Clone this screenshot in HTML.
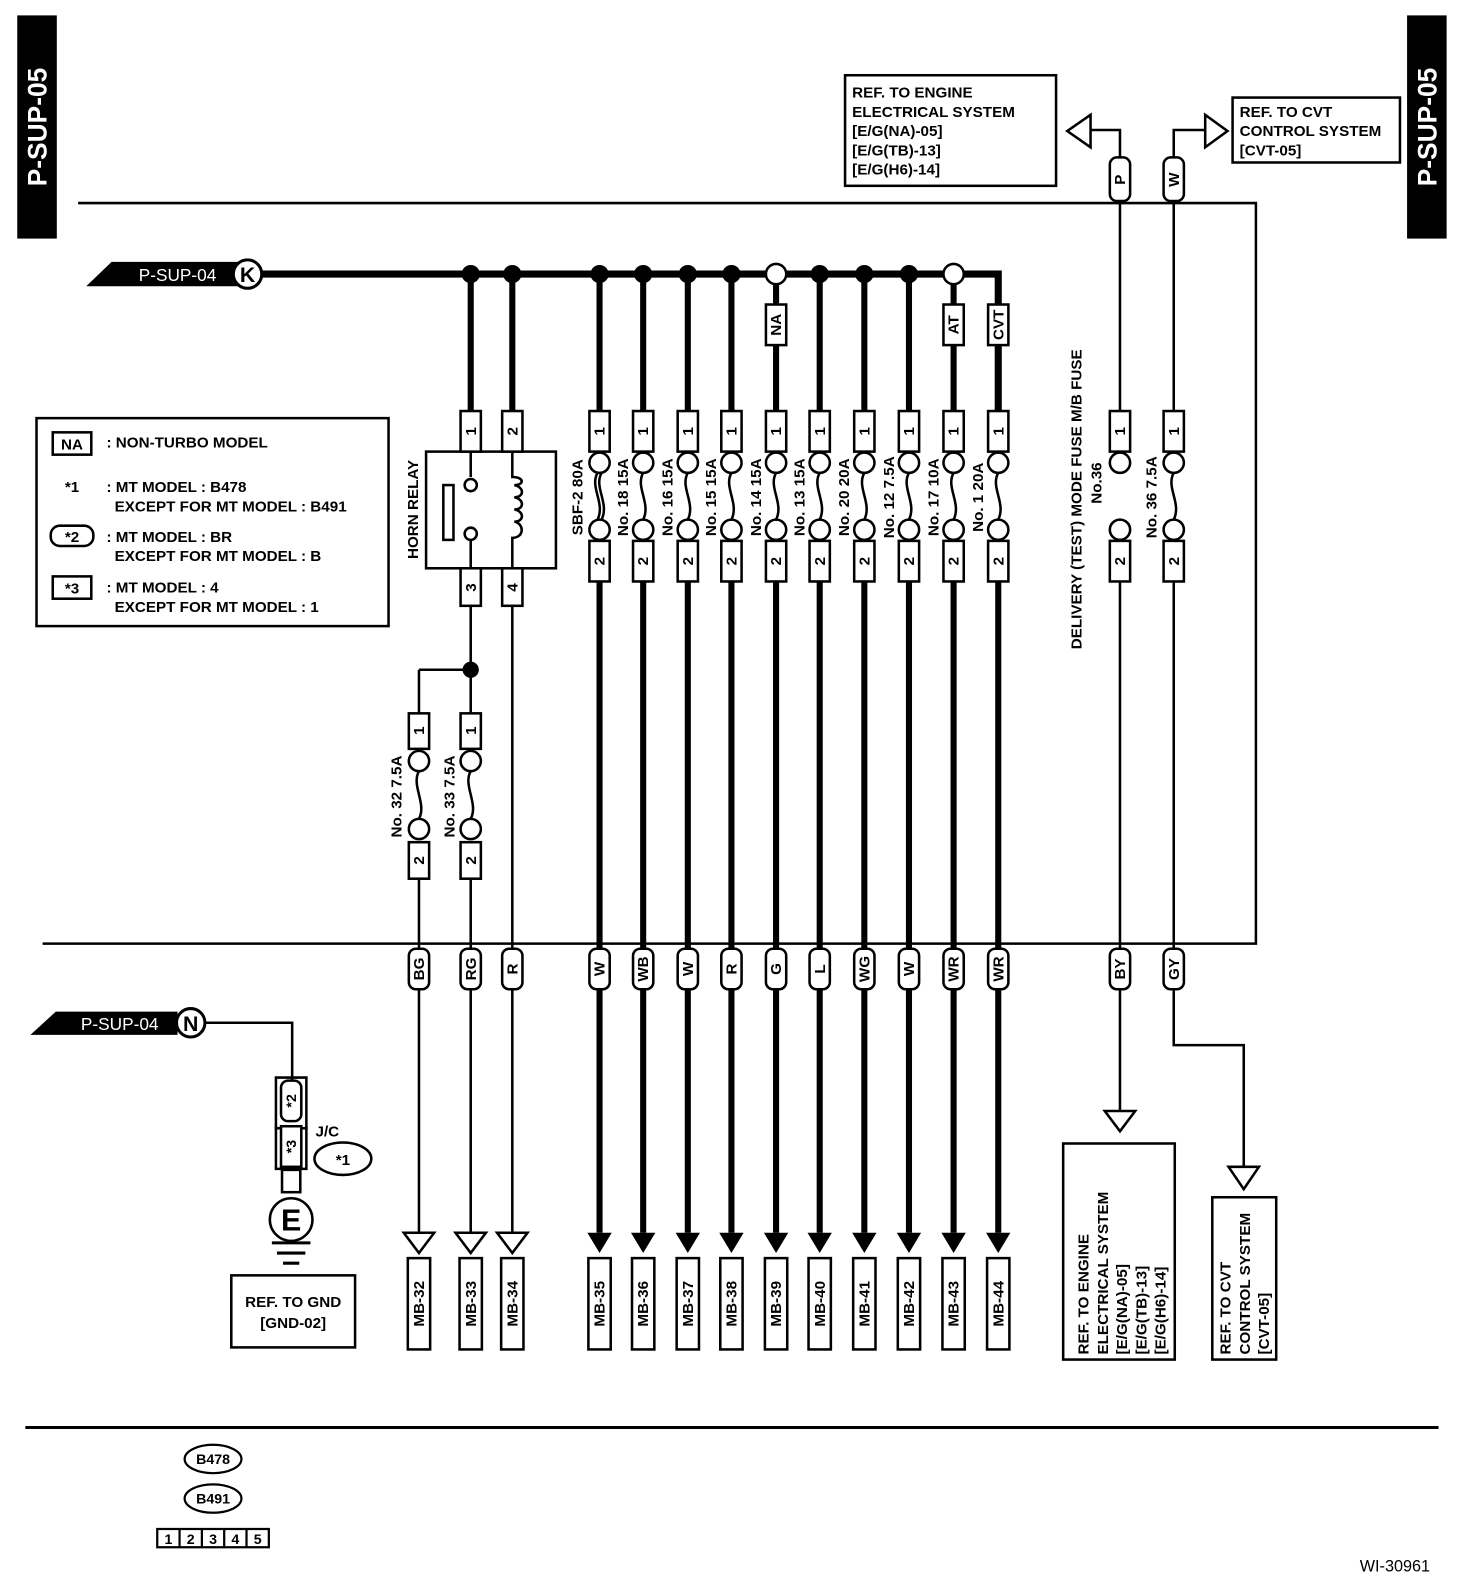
<!DOCTYPE html>
<html><head><meta charset="utf-8"><style>
html,body{margin:0;padding:0;background:#fff}
svg{display:block}
text{font-family:"Liberation Sans",sans-serif;font-weight:bold;fill:#000}
</style></head><body>
<svg width="1472" height="1588" viewBox="0 0 1451 1565" xmlns="http://www.w3.org/2000/svg">
<rect width="1451" height="1565" fill="#fff"/>
<!-- side bars -->
<rect x="17" y="15" width="39" height="220" fill="#000"/>
<text transform="translate(46,125) rotate(-90)" text-anchor="middle" font-size="26" style="fill:#fff">P-SUP-05</text>
<rect x="1387" y="15" width="39" height="220" fill="#000"/>
<text transform="translate(1416,125) rotate(-90)" text-anchor="middle" font-size="26" style="fill:#fff">P-SUP-05</text>

<g fill="none" stroke="#000" stroke-width="2.5">
<!-- frame lines -->
<path d="M77 200 H1238 V930 H42"/>
<!-- ref boxes top -->
<rect x="833" y="74" width="208" height="109"/>
<rect x="1215" y="96" width="165" height="64"/>
<!-- P / W up -->
<path d="M1104 155 V128 H1075"/>
<polygon points="1075,113 1075,145 1052,129"/>
<path d="M1157 155 V128 H1188"/>
<polygon points="1188,113 1188,145 1210,129"/>
<path d="M1104 198 V405 M1157 198 V405 M1104 572 V935 M1157 572 V935"/>
<path d="M1104 975 V1095"/>
<polygon points="1089,1095 1119,1095 1104,1115"/>
<path d="M1157 975 V1030 H1226 V1150"/>
<polygon points="1211,1150 1241,1150 1226,1172"/>
<rect x="1048" y="1127" width="110" height="213"/>
<rect x="1195" y="1180" width="63" height="160"/>
<!-- legend -->
<rect x="36" y="412" width="347" height="205"/>
<!-- horn relay -->
<rect x="420" y="445" width="128" height="115"/>
<!-- thin lines lower -->
<path d="M464 597 V660 M413 660 H464 M413 660 V703 M464 660 V703 M413 866 V935 M464 866 V935 M505 597 V935 M413 975 V1215 M464 975 V1215 M505 975 V1215"/>
<polygon points="398,1215 428,1215 413,1235"/>
<polygon points="449,1215 479,1215 464,1235"/>
<polygon points="490,1215 520,1215 505,1235"/>
<!-- N line -->
<path d="M200 1008 H288 V1065"/>
<!-- bottom line -->
<path d="M25 1407 H1418" stroke-width="3"/>
<rect x="228" y="1257" width="122" height="71"/>
</g>

<!-- ref texts -->
<g font-size="15">
<text x="840" y="96">REF. TO ENGINE</text>
<text x="840" y="115">ELECTRICAL SYSTEM</text>
<text x="840" y="134">[E/G(NA)-05]</text>
<text x="840" y="153">[E/G(TB)-13]</text>
<text x="840" y="172">[E/G(H6)-14]</text>
<text x="1222" y="115">REF. TO CVT</text>
<text x="1222" y="134">CONTROL SYSTEM</text>
<text x="1222" y="153">[CVT-05]</text>
<text transform="translate(1073,1335) rotate(-90)">REF. TO ENGINE</text>
<text transform="translate(1092,1335) rotate(-90)">ELECTRICAL SYSTEM</text>
<text transform="translate(1111,1335) rotate(-90)">[E/G(NA)-05]</text>
<text transform="translate(1130,1335) rotate(-90)">[E/G(TB)-13]</text>
<text transform="translate(1149,1335) rotate(-90)">[E/G(H6)-14]</text>
<text transform="translate(1213,1335) rotate(-90)">REF. TO CVT</text>
<text transform="translate(1232,1335) rotate(-90)">CONTROL SYSTEM</text>
<text transform="translate(1251,1335) rotate(-90)">[CVT-05]</text>
<text x="289" y="1288" text-anchor="middle">REF. TO GND</text>
<text x="289" y="1309" text-anchor="middle">[GND-02]</text>
</g>

<!-- P/W and wire labels on right -->
<g fill="#fff" stroke="#000" stroke-width="2.5">
<rect x="1094" y="155" width="20" height="43" rx="7"/>
<rect x="1147" y="155" width="20" height="43" rx="7"/>
<rect x="1094" y="935" width="20" height="40" rx="7"/>
<rect x="1147" y="935" width="20" height="40" rx="7"/>
<rect x="1094" y="405" width="20" height="40"/>
<rect x="1147" y="405" width="20" height="40"/>
<rect x="1094" y="533" width="20" height="40"/>
<rect x="1147" y="533" width="20" height="40"/>
<circle cx="1104" cy="456" r="10"/><circle cx="1104" cy="522" r="10"/>
<circle cx="1157" cy="456" r="10"/><circle cx="1157" cy="522" r="10"/>
</g>
<path d="M1157 466 C1149 480 1165 496 1157 512" fill="none" stroke="#000" stroke-width="2.5"/>
<g font-size="15" text-anchor="middle">
<text transform="translate(1109,177) rotate(-90)">P</text>
<text transform="translate(1162,177) rotate(-90)">W</text>
<text transform="translate(1109,955) rotate(-90)">BY</text>
<text transform="translate(1162,955) rotate(-90)">GY</text>
<text transform="translate(1109,425) rotate(-90)">1</text>
<text transform="translate(1162,425) rotate(-90)">1</text>
<text transform="translate(1109,553) rotate(-90)">2</text>
<text transform="translate(1162,553) rotate(-90)">2</text>
<text transform="translate(1066,492) rotate(-90)">DELIVERY (TEST) MODE FUSE M/B FUSE</text>
<text transform="translate(1086,476) rotate(-90)">No.36</text>
<text transform="translate(1140,490) rotate(-90)">No. 36 7.5A</text>
</g>

<!-- K bus -->
<polygon points="85,282 110,258 235,258 235,282" fill="#000"/>
<text x="175" y="277" font-size="17" text-anchor="middle" font-weight="normal" style="fill:#fff;font-weight:normal">P-SUP-04</text>
<path d="M244 270 H984 V405" fill="none" stroke="#000" stroke-width="7"/>
<circle cx="244" cy="270" r="14" fill="#fff" stroke="#000" stroke-width="3"/>
<text x="244" y="278" font-size="21" text-anchor="middle">K</text>
<!-- N -->
<polygon points="30,1020 55,997 175,997 175,1020" fill="#000"/>
<text x="118" y="1015" font-size="17" text-anchor="middle" style="fill:#fff;font-weight:normal">P-SUP-04</text>
<circle cx="188" cy="1008" r="14" fill="#fff" stroke="#000" stroke-width="3"/>
<text x="188" y="1016" font-size="21" text-anchor="middle">N</text>

<!-- thick column lines -->
<g stroke="#000" stroke-width="6" fill="none">
<path d="M464 270 V405 M505 270 V405"/>
<path d="M591 270 V405 M634 270 V405 M678 270 V405 M721 270 V405 M765 270 V405 M808 270 V405 M852 270 V405 M896 270 V405 M940 270 V405"/>
<path d="M591 572 V1215 M634 572 V1215 M678 572 V1215 M721 572 V1215 M765 572 V1215 M808 572 V1215 M852 572 V1215 M896 572 V1215 M940 572 V1215 M984 572 V1215"/>
</g>
<g fill="#000">
<circle cx="464" cy="270" r="9"/><circle cx="505" cy="270" r="9"/><circle cx="591" cy="270" r="9"/><circle cx="634" cy="270" r="9"/><circle cx="678" cy="270" r="9"/><circle cx="721" cy="270" r="9"/><circle cx="808" cy="270" r="9"/><circle cx="852" cy="270" r="9"/><circle cx="896" cy="270" r="9"/>
<circle cx="464" cy="660" r="8"/>
<polygon points="579,1215 603,1215 591,1235"/><polygon points="622,1215 646,1215 634,1235"/><polygon points="666,1215 690,1215 678,1235"/><polygon points="709,1215 733,1215 721,1235"/><polygon points="753,1215 777,1215 765,1235"/><polygon points="796,1215 820,1215 808,1235"/><polygon points="840,1215 864,1215 852,1235"/><polygon points="884,1215 908,1215 896,1235"/><polygon points="928,1215 952,1215 940,1235"/><polygon points="972,1215 996,1215 984,1235"/>
</g>
<g fill="#fff" stroke="#000" stroke-width="2.5">
<circle cx="765" cy="270" r="10"/><circle cx="940" cy="270" r="10"/>
<rect x="755" y="300" width="20" height="40"/><rect x="930" y="300" width="20" height="40"/><rect x="974" y="300" width="20" height="40"/>
<!-- connector 1 boxes -->
<rect x="454" y="405" width="20" height="40"/><rect x="495" y="405" width="20" height="40"/>
<rect x="581" y="405" width="20" height="40"/><rect x="624" y="405" width="20" height="40"/><rect x="668" y="405" width="20" height="40"/><rect x="711" y="405" width="20" height="40"/><rect x="755" y="405" width="20" height="40"/><rect x="798" y="405" width="20" height="40"/><rect x="842" y="405" width="20" height="40"/><rect x="886" y="405" width="20" height="40"/><rect x="930" y="405" width="20" height="40"/><rect x="974" y="405" width="20" height="40"/>
<rect x="581" y="533" width="20" height="40"/><rect x="624" y="533" width="20" height="40"/><rect x="668" y="533" width="20" height="40"/><rect x="711" y="533" width="20" height="40"/><rect x="755" y="533" width="20" height="40"/><rect x="798" y="533" width="20" height="40"/><rect x="842" y="533" width="20" height="40"/><rect x="886" y="533" width="20" height="40"/><rect x="930" y="533" width="20" height="40"/><rect x="974" y="533" width="20" height="40"/>
<rect x="454" y="560" width="20" height="37"/><rect x="495" y="560" width="20" height="37"/>
<circle cx="591" cy="456" r="10"/><circle cx="634" cy="456" r="10"/><circle cx="678" cy="456" r="10"/><circle cx="721" cy="456" r="10"/><circle cx="765" cy="456" r="10"/><circle cx="808" cy="456" r="10"/><circle cx="852" cy="456" r="10"/><circle cx="896" cy="456" r="10"/><circle cx="940" cy="456" r="10"/><circle cx="984" cy="456" r="10"/>
<circle cx="591" cy="522" r="10"/><circle cx="634" cy="522" r="10"/><circle cx="678" cy="522" r="10"/><circle cx="721" cy="522" r="10"/><circle cx="765" cy="522" r="10"/><circle cx="808" cy="522" r="10"/><circle cx="852" cy="522" r="10"/><circle cx="896" cy="522" r="10"/><circle cx="940" cy="522" r="10"/><circle cx="984" cy="522" r="10"/>
<!-- lower fuses -->
<rect x="403" y="703" width="20" height="35"/><rect x="454" y="703" width="20" height="35"/>
<circle cx="413" cy="750" r="10"/><circle cx="464" cy="750" r="10"/><circle cx="413" cy="817" r="10"/><circle cx="464" cy="817" r="10"/>
<rect x="403" y="830" width="20" height="36"/><rect x="454" y="830" width="20" height="36"/>
<!-- wire labels -->
<rect x="403" y="935" width="20" height="40" rx="7"/><rect x="454" y="935" width="20" height="40" rx="7"/><rect x="495" y="935" width="20" height="40" rx="7"/>
<rect x="581" y="935" width="20" height="40" rx="7"/><rect x="624" y="935" width="20" height="40" rx="7"/><rect x="668" y="935" width="20" height="40" rx="7"/><rect x="711" y="935" width="20" height="40" rx="7"/><rect x="755" y="935" width="20" height="40" rx="7"/><rect x="798" y="935" width="20" height="40" rx="7"/><rect x="842" y="935" width="20" height="40" rx="7"/><rect x="886" y="935" width="20" height="40" rx="7"/><rect x="930" y="935" width="20" height="40" rx="7"/><rect x="974" y="935" width="20" height="40" rx="7"/>
<!-- MB boxes -->
<rect x="402" y="1240" width="22" height="90"/><rect x="453" y="1240" width="22" height="90"/><rect x="494" y="1240" width="22" height="90"/>
<rect x="580" y="1240" width="22" height="90"/><rect x="623" y="1240" width="22" height="90"/><rect x="667" y="1240" width="22" height="90"/><rect x="710" y="1240" width="22" height="90"/><rect x="754" y="1240" width="22" height="90"/><rect x="797" y="1240" width="22" height="90"/><rect x="841" y="1240" width="22" height="90"/><rect x="885" y="1240" width="22" height="90"/><rect x="929" y="1240" width="22" height="90"/><rect x="973" y="1240" width="22" height="90"/>
</g>
<!-- fuse links -->
<g fill="none" stroke="#000" stroke-width="2.5">
<path d="M589 466 C581 480 597 496 589 512 M593 466 C585 480 601 496 593 512"/>
<path d="M634 466 C626 480 642 496 634 512 M678 466 C670 480 686 496 678 512 M721 466 C713 480 729 496 721 512 M765 466 C757 480 773 496 765 512 M808 466 C800 480 816 496 808 512 M852 466 C844 480 860 496 852 512 M896 466 C888 480 904 496 896 512 M940 466 C932 480 948 496 940 512 M984 466 C976 480 992 496 984 512"/>
<path d="M413 760 C405 774 421 792 413 807 M464 760 C456 774 472 792 464 807"/>
<!-- relay internals -->
<path d="M464 445 V470 M464 560 V532"/>
<circle cx="464" cy="478" r="6"/><circle cx="464" cy="526" r="6"/>
<rect x="437" y="478" width="10" height="54"/>
<path d="M505 445 V470 C517 470 517 478 507 478 C517 480 517 490 507 490 C517 492 517 502 507 502 C517 504 517 514 507 514 C517 516 517 530 505 530 V560"/>
<!-- ground -->
<path d="M272 1062 H302 V1112 H272 Z"/>
</g>
<!-- ground assembly -->
<g fill="#fff" stroke="#000" stroke-width="2.5">
<rect x="277" y="1065" width="20" height="40" rx="7"/>
<rect x="277" y="1110" width="20" height="40"/>
<rect x="278" y="1153" width="18" height="22"/>
<circle cx="287" cy="1202" r="21"/>
<ellipse cx="338" cy="1142" rx="28" ry="16"/>
</g>
<path d="M272 1110 V1152 H302 V1110" fill="none" stroke="#000" stroke-width="2.5"/>
<path d="M268 1225 H306 M273 1235 H301 M279 1245 H295" stroke="#000" stroke-width="3"/>
<text x="287" y="1213" font-size="30" text-anchor="middle">E</text>
<text transform="translate(292,1085) rotate(-90)" font-size="14" text-anchor="middle">*2</text>
<text transform="translate(292,1130) rotate(-90)" font-size="14" text-anchor="middle">*3</text>
<text x="311" y="1120" font-size="15">J/C</text>
<text x="338" y="1148" font-size="15" text-anchor="middle">*1</text>

<!-- connector / label texts -->
<g font-size="15" text-anchor="middle">
<text transform="translate(770,320) rotate(-90)">NA</text>
<text transform="translate(945,320) rotate(-90)">AT</text>
<text transform="translate(989,320) rotate(-90)">CVT</text>
<text transform="translate(469,425) rotate(-90)">1</text><text transform="translate(510,425) rotate(-90)">2</text>
<text transform="translate(596,425) rotate(-90)">1</text><text transform="translate(639,425) rotate(-90)">1</text><text transform="translate(683,425) rotate(-90)">1</text><text transform="translate(726,425) rotate(-90)">1</text><text transform="translate(770,425) rotate(-90)">1</text><text transform="translate(813,425) rotate(-90)">1</text><text transform="translate(857,425) rotate(-90)">1</text><text transform="translate(901,425) rotate(-90)">1</text><text transform="translate(945,425) rotate(-90)">1</text><text transform="translate(989,425) rotate(-90)">1</text>
<text transform="translate(596,553) rotate(-90)">2</text><text transform="translate(639,553) rotate(-90)">2</text><text transform="translate(683,553) rotate(-90)">2</text><text transform="translate(726,553) rotate(-90)">2</text><text transform="translate(770,553) rotate(-90)">2</text><text transform="translate(813,553) rotate(-90)">2</text><text transform="translate(857,553) rotate(-90)">2</text><text transform="translate(901,553) rotate(-90)">2</text><text transform="translate(945,553) rotate(-90)">2</text><text transform="translate(989,553) rotate(-90)">2</text>
<text transform="translate(469,579) rotate(-90)">3</text><text transform="translate(510,579) rotate(-90)">4</text>
<text transform="translate(418,720) rotate(-90)">1</text><text transform="translate(469,720) rotate(-90)">1</text>
<text transform="translate(418,848) rotate(-90)">2</text><text transform="translate(469,848) rotate(-90)">2</text>
<text transform="translate(412,502) rotate(-90)">HORN RELAY</text>
<text transform="translate(574,490) rotate(-90)">SBF-2 80A</text>
<text transform="translate(619,490) rotate(-90)">No. 18 15A</text>
<text transform="translate(663,490) rotate(-90)">No. 16 15A</text>
<text transform="translate(706,490) rotate(-90)">No. 15 15A</text>
<text transform="translate(750,490) rotate(-90)">No. 14 15A</text>
<text transform="translate(793,490) rotate(-90)">No. 13 15A</text>
<text transform="translate(837,490) rotate(-90)">No. 20 20A</text>
<text transform="translate(881,490) rotate(-90)">No. 12 7.5A</text>
<text transform="translate(925,490) rotate(-90)">No. 17 10A</text>
<text transform="translate(969,490) rotate(-90)">No. 1 20A</text>
<text transform="translate(396,785) rotate(-90)">No. 32 7.5A</text>
<text transform="translate(448,785) rotate(-90)">No. 33 7.5A</text>
<text transform="translate(418,955) rotate(-90)">BG</text><text transform="translate(469,955) rotate(-90)">RG</text><text transform="translate(510,955) rotate(-90)">R</text>
<text transform="translate(596,955) rotate(-90)">W</text><text transform="translate(639,955) rotate(-90)">WB</text><text transform="translate(683,955) rotate(-90)">W</text><text transform="translate(726,955) rotate(-90)">R</text><text transform="translate(770,955) rotate(-90)">G</text><text transform="translate(813,955) rotate(-90)">L</text><text transform="translate(857,955) rotate(-90)">WG</text><text transform="translate(901,955) rotate(-90)">W</text><text transform="translate(945,955) rotate(-90)">WR</text><text transform="translate(989,955) rotate(-90)">WR</text>
<text transform="translate(418,1285) rotate(-90)">MB-32</text><text transform="translate(469,1285) rotate(-90)">MB-33</text><text transform="translate(510,1285) rotate(-90)">MB-34</text>
<text transform="translate(596,1285) rotate(-90)">MB-35</text><text transform="translate(639,1285) rotate(-90)">MB-36</text><text transform="translate(683,1285) rotate(-90)">MB-37</text><text transform="translate(726,1285) rotate(-90)">MB-38</text><text transform="translate(770,1285) rotate(-90)">MB-39</text><text transform="translate(813,1285) rotate(-90)">MB-40</text><text transform="translate(857,1285) rotate(-90)">MB-41</text><text transform="translate(901,1285) rotate(-90)">MB-42</text><text transform="translate(945,1285) rotate(-90)">MB-43</text><text transform="translate(989,1285) rotate(-90)">MB-44</text>
</g>

<!-- legend -->
<g fill="none" stroke="#000" stroke-width="2.5">
<rect x="52" y="426" width="38" height="22"/>
<rect x="50" y="518" width="42" height="20" rx="9"/>
<rect x="52" y="568" width="38" height="22"/>
</g>
<g font-size="15">
<text x="71" y="443" text-anchor="middle">NA</text>
<text x="105" y="441">: NON-TURBO MODEL</text>
<text x="71" y="485" text-anchor="middle">*1</text>
<text x="105" y="485">: MT MODEL  : B478</text>
<text x="113" y="504">EXCEPT FOR MT MODEL  : B491</text>
<text x="71" y="534" text-anchor="middle">*2</text>
<text x="105" y="534">: MT MODEL  : BR</text>
<text x="113" y="553">EXCEPT FOR MT MODEL  : B</text>
<text x="71" y="585" text-anchor="middle">*3</text>
<text x="105" y="584">: MT MODEL  : 4</text>
<text x="113" y="603">EXCEPT FOR MT MODEL  : 1</text>
</g>

<!-- bottom connector -->
<g fill="none" stroke="#000" stroke-width="2.2">
<ellipse cx="210" cy="1438" rx="28" ry="14"/>
<ellipse cx="210" cy="1477" rx="28" ry="14"/>
<rect x="155" y="1507" width="110" height="18"/>
<path d="M177 1507 V1525 M199 1507 V1525 M221 1507 V1525 M243 1507 V1525"/>
</g>
<g font-size="14" text-anchor="middle">
<text x="210" y="1443">B478</text><text x="210" y="1482">B491</text>
<g style="font-weight:normal"><text x="166" y="1522">1</text><text x="188" y="1522">2</text><text x="210" y="1522">3</text><text x="232" y="1522">4</text><text x="254" y="1522">5</text></g>
</g>
<text x="1375" y="1549" font-size="16" text-anchor="middle" style="font-weight:normal">WI-30961</text>
</svg>
</body></html>
